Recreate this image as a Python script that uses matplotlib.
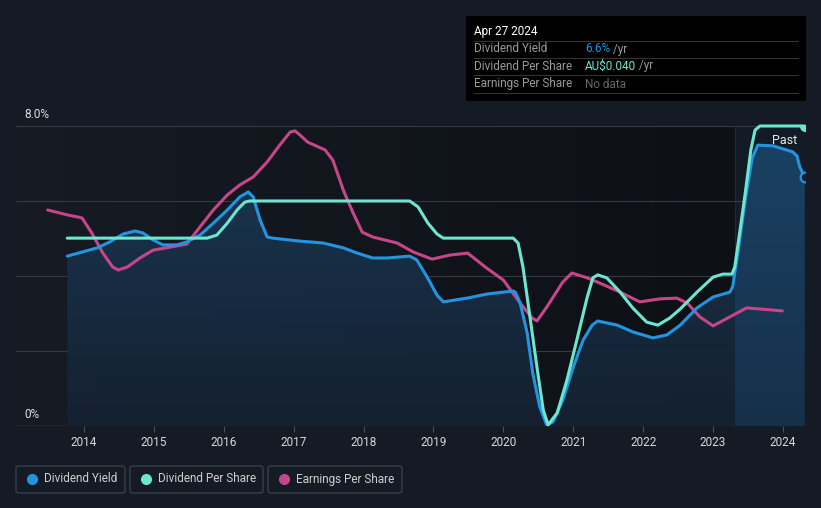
import numpy as np
import matplotlib
matplotlib.use('Agg')
import matplotlib.pyplot as plt
from matplotlib.patches import FancyBboxPatch, Rectangle
from matplotlib.colors import LinearSegmentedColormap

plt.rcParams['font.family'] = ['Roboto', 'DejaVu Sans']

# --- data ---
yield_years = [2013.76, 2014.19, 2014.37, 2014.56, 2014.73, 2014.84, 2014.99, 2015.13, 2015.33,
               2015.47, 2015.66, 2015.85, 2016.05, 2016.23, 2016.35, 2016.42, 2016.52, 2016.62,
               2016.70, 2017.09, 2017.42, 2017.71, 2017.91, 2018.13, 2018.33, 2018.66, 2018.76,
               2018.91, 2019.05, 2019.14, 2019.48, 2019.77, 2020.14, 2020.17, 2020.24, 2020.34,
               2020.42, 2020.52, 2020.62, 2020.71, 2020.85, 2021.00, 2021.14, 2021.27, 2021.35,
               2021.63, 2021.85, 2022.14, 2022.34, 2022.53, 2022.77, 2023.00, 2023.24, 2023.28,
               2023.36, 2023.46, 2023.56, 2023.64, 2023.86, 2024.14, 2024.20, 2024.24, 2024.31]
yield_vals = [4.53, 4.75, 4.91, 5.12, 5.20, 5.15, 4.96, 4.83, 4.83,
              4.91, 5.09, 5.41, 5.76, 6.11, 6.24, 6.11, 5.49, 5.04,
              5.01, 4.93, 4.88, 4.75, 4.61, 4.48, 4.48, 4.53, 4.43,
              3.97, 3.49, 3.31, 3.41, 3.52, 3.60, 3.57, 3.28, 2.48,
              1.41, 0.51, 0.03, 0.11, 0.69, 1.57, 2.29, 2.69, 2.80,
              2.69, 2.51, 2.35, 2.43, 2.69, 3.15, 3.44, 3.57, 3.71,
              4.69, 6.03, 7.15, 7.49, 7.47, 7.31, 7.20, 6.91, 6.64]

dps_years = [2013.76, 2015.76, 2015.90, 2016.05, 2016.19, 2016.30, 2016.37, 2018.66, 2018.78,
             2018.92, 2019.05, 2019.14, 2020.14, 2020.21, 2020.28, 2020.38, 2020.48, 2020.57,
             2020.64, 2020.77, 2020.91, 2021.05, 2021.20, 2021.28, 2021.35, 2021.48, 2021.67,
             2021.85, 2022.05, 2022.21, 2022.38, 2022.53, 2022.77, 2023.00, 2023.14, 2023.27,
             2023.31, 2023.38, 2023.46, 2023.54, 2023.60, 2023.67, 2024.31]
dps_vals = [5.01, 5.01, 5.09, 5.41, 5.76, 5.97, 6.00, 6.00, 5.84,
            5.41, 5.12, 5.01, 5.01, 4.88, 4.24, 2.91, 1.57, 0.43,
            0.03, 0.35, 1.23, 2.29, 3.44, 3.95, 4.03, 3.95, 3.57,
            3.15, 2.77, 2.69, 2.88, 3.12, 3.57, 3.97, 4.05, 4.05,
            4.24, 5.15, 6.21, 7.36, 7.89, 8.00, 8.00]

eps_years = [2013.48, 2013.76, 2013.97, 2014.11, 2014.27, 2014.41, 2014.49, 2014.62, 2014.80,
             2014.99, 2015.23, 2015.47, 2015.66, 2015.85, 2016.05, 2016.23, 2016.42, 2016.62,
             2016.80, 2016.95, 2017.02, 2017.09, 2017.20, 2017.45, 2017.56, 2017.71, 2017.85,
             2017.98, 2018.13, 2018.48, 2018.71, 2018.98, 2019.24, 2019.49, 2019.74, 2020.00,
             2020.24, 2020.41, 2020.48, 2020.62, 2020.85, 2020.98, 2021.20, 2021.38, 2021.67,
             2021.95, 2022.24, 2022.48, 2022.63, 2022.81, 2023.00, 2023.24, 2023.48, 2023.99]
eps_vals = [5.76, 5.63, 5.55, 5.15, 4.61, 4.24, 4.16, 4.24, 4.48,
            4.69, 4.77, 4.85, 5.31, 5.76, 6.16, 6.43, 6.64, 7.04,
            7.49, 7.84, 7.87, 7.76, 7.57, 7.36, 7.09, 6.29, 5.68,
            5.17, 5.04, 4.88, 4.64, 4.45, 4.56, 4.61, 4.24, 3.89,
            3.28, 2.88, 2.80, 3.17, 3.84, 4.08, 3.95, 3.81, 3.57,
            3.31, 3.39, 3.41, 3.28, 2.91, 2.67, 2.91, 3.15, 3.07]

year_ticks = [2014, 2015, 2016, 2017, 2018, 2019, 2020, 2021, 2022, 2023, 2024]
past_start = 2023.31

BLUE = '#2394df'
TEAL = '#6de6cf'
PINK = '#c7468a'
BG = '#151b24'

W, H = 821, 508
fig = plt.figure(figsize=(W / 100, H / 100), dpi=100, facecolor=BG)

def px(x0, y0, x1, y1):
    return [x0 / W, 1 - y1 / H, (x1 - x0) / W, (y1 - y0) / H]

ax = fig.add_axes(px(16, 126, 805, 426))
ax.set_facecolor(BG)
x_lo, x_hi = 2013.027, 2024.315
ax.set_xlim(x_lo, x_hi)
ax.set_ylim(0, 8)

# background gradient (lighter left, darker right)
grad = LinearSegmentedColormap.from_list('bg', ['#161b24', '#0d1015'])
ax.imshow(np.linspace(0, 1, 256).reshape(1, -1), cmap=grad, aspect='auto',
          extent=[x_lo, past_start, 0, 8], zorder=0)
ax.add_patch(Rectangle((past_start, 0), x_hi - past_start, 8, facecolor='#131b26',
                       edgecolor='none', zorder=0.5))
ax.axvline(past_start, color='#1f2a36', lw=0.8, zorder=0.6)

# gridlines
for g in [2, 4, 6, 8]:
    ax.axhline(g, color='#343a43', lw=0.8, zorder=1)
ax.axhline(0, color='#4a5058', lw=1.0, zorder=1)

# gradient fill under dividend yield
poly = ax.fill_between(yield_years, yield_vals, 0, color='none', zorder=2)
fill_cm = LinearSegmentedColormap.from_list('fill', ['#152131', '#1b3b58'])
img = ax.imshow(np.linspace(0, 1, 256).reshape(-1, 1)[::-1], cmap=fill_cm, aspect='auto',
                extent=[x_lo, x_hi, 0, 8], zorder=2, alpha=0.95)
img.set_clip_path(poly.get_paths()[0], transform=ax.transData)
# past region fill a bit brighter
img2 = ax.imshow(np.linspace(0, 1, 256).reshape(-1, 1)[::-1],
                 cmap=LinearSegmentedColormap.from_list('f2', ['#16304a', '#1a4264']),
                 aspect='auto', extent=[past_start, x_hi, 0, 8], zorder=2.1)
img2.set_clip_path(poly.get_paths()[0], transform=ax.transData)

line_kw = dict(lw=2.2, solid_capstyle='round', solid_joinstyle='round')
ax.plot(eps_years, eps_vals, color=PINK, zorder=3, **line_kw)
ax.plot(yield_years, yield_vals, color=BLUE, zorder=4, **line_kw)
ax.plot(dps_years, dps_vals, color=TEAL, zorder=5, clip_on=False, **line_kw)

ax.plot([dps_years[-1]], [dps_vals[-1]], 'o', ms=7, color=TEAL, zorder=6, clip_on=True)
ax.plot([yield_years[-1]], [yield_vals[-1]], 'o', ms=7, markerfacecolor='#131b26',
        markeredgecolor=BLUE, markeredgewidth=1.6, zorder=6, clip_on=True)

ax.text(2024.03, 7.6, 'Past', color='#e8e8e8', fontsize=9, ha='center', va='center', zorder=7)

for s in ax.spines.values():
    s.set_visible(False)
ax.set_yticks([])
ax.set_xticks(year_ticks)
ax.set_xticklabels([str(y) for y in year_ticks], color='#d8d8d8', fontsize=8.5)
ax.tick_params(axis='x', length=4, color='#4a5058', pad=3)

fig.text(24 / W, 1 - 114 / H, '8.0%', color='#e0e0e0', fontsize=8.5, va='center', ha='left')
fig.text(24 / W, 1 - 414 / H, '0%', color='#e0e0e0', fontsize=8.5, va='center', ha='left')

# tooltip box
fig.patches.append(Rectangle((466 / W, 1 - 101 / H), 340 / W, 85 / H, transform=fig.transFigure,
                             facecolor='#000000', edgecolor='none', zorder=10))
fig.text(474 / W, 1 - 31 / H, 'Apr 27 2024', color='#ffffff', fontsize=8.5, va='center', zorder=11)
for yy in [41, 58, 75, 93]:
    fig.add_artist(plt.Line2D([474 / W, 798 / W], [1 - yy / H, 1 - yy / H], color='#333333',
                              lw=0.8, zorder=11))
rows = [('Dividend Yield', '6.6%', BLUE, ' /yr', 49),
        ('Dividend Per Share', 'AU$0.040', TEAL, ' /yr', 66),
        ('Earnings Per Share', 'No data', '#666666', '', 84)]
for label, val, col, unit, yy in rows:
    fig.text(474 / W, 1 - yy / H, label, color='#9a9a9a', fontsize=8.5, va='center', zorder=11)
    t = fig.text(585 / W, 1 - yy / H, val, color=col, fontsize=8.5, va='center', zorder=11)
    if unit:
        fig.canvas.draw()
        bb = t.get_window_extent()
        fig.text(bb.x1 / W, 1 - yy / H, unit, color='#9a9a9a', fontsize=8.5, va='center', zorder=11)

# legend boxes
legend_items = [('Dividend Yield', BLUE, 16, 125), ('Dividend Per Share', TEAL, 130, 263),
                ('Earnings Per Share', PINK, 268, 402)]
for label, col, x0, x1 in legend_items:
    fig.patches.append(FancyBboxPatch((x0 / W, 1 - 493 / H), (x1 - x0) / W, 27 / H,
                                      boxstyle='round,pad=0,rounding_size=0.004',
                                      transform=fig.transFigure, facecolor='none',
                                      edgecolor='#3c424b', lw=0.9))
    fig.add_artist(plt.Line2D([(x0 + 16) / W], [1 - 479 / H], marker='o', ms=7, color=col, lw=0))
    fig.text((x0 + 28) / W, 1 - 479 / H, label, color='#cfcfcf', fontsize=8.5, va='center')

fig.savefig('out.png', dpi=100, facecolor=BG)
